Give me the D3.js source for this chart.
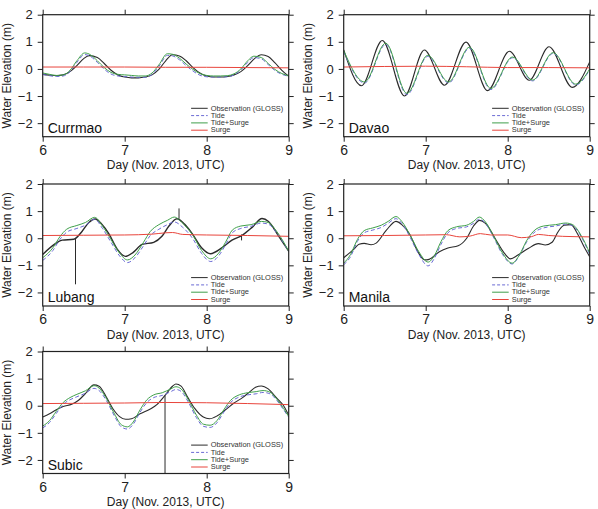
<!DOCTYPE html>
<html>
<head>
<meta charset="utf-8">
<script src="https://cdn.jsdelivr.net/npm/d3@7"></script>
<style>
  body { margin: 0; background: #fff; }
  text { font-family: "Liberation Sans", Arial, Helvetica, sans-serif; }
</style>
</head>
<body>
<svg id="chart" width="598" height="509"></svg>
<script>
// x axis: day of Nov. 2013 (UTC); series points are [hours after 6 Nov 00:00, metres]
const dayTicks = [6, 7, 8, 9];
const levelTicks = [-2, -1, 0, 1, 2];
const seriesNames = ["Observation (GLOSS)", "Tide", "Tide+Surge", "Surge"];

// Currmao
const currmaoObs = [[0,-0.20],[2,-0.23],[4,-0.25],[6,-0.22],[8,-0.10],[10,0.12],[12,0.38],[13.6,0.49],[16,0.42],[18,0.20],[20,-0.05],[22,-0.22],[24,-0.30],[26,-0.33],[28,-0.33],[30,-0.30],[32,-0.22],[34,-0.02],[36,0.30],[38,0.52],[40,0.48],[42,0.30],[44,0.05],[46,-0.15],[48,-0.26],[50,-0.30],[52,-0.30],[54,-0.28],[56,-0.22],[58,-0.10],[60,0.12],[62,0.38],[64,0.52],[66,0.46],[68,0.22],[70,-0.05],[72,-0.27]];
const currmaoTide = [[0,-0.20],[2,-0.25],[4,-0.28],[6,-0.26],[8,-0.10],[10,0.24],[12.3,0.53],[14,0.46],[16,0.24],[18,-0.01],[20,-0.19],[22,-0.26],[24,-0.28],[26,-0.30],[28,-0.31],[30,-0.31],[32,-0.21],[34,0.09],[36.5,0.50],[38,0.48],[40,0.34],[42,0.12],[44,-0.08],[46,-0.23],[48,-0.29],[50,-0.30],[52,-0.30],[54,-0.29],[56,-0.22],[58,-0.04],[60,0.24],[61.8,0.42],[64,0.37],[66,0.16],[68,-0.06],[70,-0.20],[72,-0.27]];
const currmaoTideSurge = [[0,-0.15],[2,-0.20],[4,-0.24],[6,-0.22],[8,-0.05],[10,0.30],[12.3,0.59],[14,0.52],[16,0.30],[18,0.05],[20,-0.13],[22,-0.20],[24,-0.22],[26,-0.24],[28,-0.26],[30,-0.26],[32,-0.15],[34,0.15],[36.5,0.56],[38,0.54],[40,0.40],[42,0.18],[44,-0.02],[46,-0.17],[48,-0.24],[50,-0.26],[52,-0.26],[54,-0.25],[56,-0.18],[58,0.00],[60,0.30],[61.8,0.47],[64,0.42],[66,0.20],[68,-0.02],[70,-0.17],[72,-0.25]];
const currmaoSurge = [[0,0.07],[12,0.07],[24,0.07],[36,0.06],[48,0.06],[60,0.05],[72,0.04]];

// Davao
const davaoObs = [[0,0.70],[5.2,-0.62],[11.3,1.05],[17.8,-1.00],[23.6,0.70],[29.5,-0.60],[35.8,0.99],[42.1,-0.80],[48.5,0.65],[54.3,-0.42],[60.1,0.82],[66.9,-0.68],[72,0.26]];
const davaoTide = [[0,0.64],[6.1,-0.52],[12.3,0.90],[18.5,-0.95],[24.6,0.46],[30.7,-0.52],[36.8,0.76],[43.1,-0.76],[49.4,0.41],[55.3,-0.44],[61.3,0.57],[67.9,-0.59],[72,-0.03]];
const davaoTideSurge = [[0,0.68],[6.1,-0.48],[12.3,0.95],[18.5,-0.90],[24.6,0.50],[30.7,-0.48],[36.8,0.80],[43.1,-0.72],[49.4,0.44],[55.3,-0.41],[61.3,0.60],[67.9,-0.56],[72,0.00]];
const davaoSurge = [[0,0.07],[12,0.09],[24,0.10],[36,0.08],[48,0.05],[60,0.05],[72,0.04]];

// Lubang
const lubangObs = [[0,-0.60],[3.7,-0.20],[5.7,-0.07],[9.1,-0.04],[11.5,0.25],[13.5,0.58],[15.4,0.71],[17.3,0.52],[19.3,0.18],[21.8,-0.40],[24.2,-0.67],[26.5,-0.52],[29.1,-0.23],[32.5,-0.15],[34.9,0.07],[36.9,0.44],[39.3,0.72],[41.5,0.52],[43.7,0.18],[46.5,-0.35],[49.1,-0.57],[52.5,-0.35],[55.4,-0.07],[58.3,0.10],[61.3,0.40],[64.2,0.73],[66.1,0.62],[69.1,0.07],[72,-0.48]];
const lubangTide = [[0,-0.82],[3,-0.45],[5,-0.05],[7,0.22],[10,0.36],[12.5,0.48],[15.2,0.70],[17.5,0.36],[20,-0.15],[22.5,-0.65],[24.8,-0.90],[27,-0.72],[29.5,-0.28],[31.5,0.10],[34,0.33],[36.5,0.50],[38.5,0.60],[41,0.40],[44,-0.03],[46.5,-0.56],[49.2,-0.86],[51.5,-0.65],[53.5,-0.25],[55.5,0.20],[58,0.36],[61,0.44],[64,0.56],[66,0.52],[68.5,0.20],[72,-0.50]];
const lubangTideSurge = [[0,-0.72],[3,-0.35],[5,0.05],[7,0.33],[10,0.47],[12.5,0.58],[15.2,0.77],[17.5,0.45],[20,-0.05],[22.5,-0.55],[24.8,-0.80],[27,-0.62],[29.5,-0.15],[31.5,0.25],[34,0.50],[36.5,0.66],[38.5,0.78],[41,0.55],[44,0.10],[46.5,-0.45],[49.2,-0.76],[51.5,-0.55],[53.5,-0.15],[55.5,0.30],[58,0.45],[61,0.50],[64,0.62],[66,0.58],[68.5,0.25],[72,-0.48]];
const lubangSurge = [[0,0.10],[12,0.11],[24,0.12],[32,0.15],[36,0.20],[38,0.21],[41,0.14],[48,0.12],[60,0.10],[72,0.07]];
const lubangSpikes = [[9.6,-0.03,-1.70],[39.9,0.72,1.10],[58.2,0.14,-0.08]];

// Manila
const manilaObs = [[0,-0.72],[3,-0.40],[4.5,-0.22],[6,-0.19],[8,-0.24],[9.5,-0.18],[12.5,0.30],[15.3,0.62],[17,0.50],[19.3,0.15],[21.5,-0.45],[23.7,-0.80],[25,-0.78],[28,-0.50],[30.5,-0.36],[33.5,-0.28],[36,0.00],[38,0.45],[39.8,0.66],[41.5,0.55],[44.5,-0.05],[47,-0.55],[48.8,-0.76],[51,-0.62],[54,-0.38],[57,-0.20],[59,-0.25],[61,-0.15],[62.8,0.25],[64.5,0.48],[66.5,0.50],[68.5,0.15],[70.5,-0.35],[72,-0.68]];
const manilaTide = [[0,-0.98],[2,-0.68],[4,-0.12],[6,0.20],[8.5,0.30],[11,0.40],[13,0.55],[15.3,0.72],[17,0.55],[19.5,0.02],[22,-0.60],[24.7,-1.02],[26.5,-0.75],[28.5,-0.22],[30.5,0.20],[33,0.36],[36,0.42],[38,0.55],[39.7,0.70],[41.5,0.55],[44,0.00],[46.5,-0.60],[49.3,-0.95],[51.5,-0.62],[53.5,-0.15],[55.5,0.18],[58.5,0.38],[62,0.45],[65,0.52],[67,0.46],[69.5,0.06],[72,-0.60]];
const manilaTideSurge = [[0,-0.92],[2,-0.60],[4,-0.05],[6,0.28],[8.5,0.38],[11,0.48],[13,0.62],[15.3,0.80],[17,0.62],[19.5,0.10],[22,-0.50],[24.7,-0.88],[26.5,-0.65],[28.5,-0.12],[30.5,0.28],[33,0.42],[36,0.48],[38,0.62],[39.7,0.78],[41.5,0.60],[44,0.05],[46.5,-0.55],[49.3,-0.92],[51.5,-0.60],[53.5,-0.10],[55.5,0.25],[58.5,0.45],[62,0.50],[65,0.56],[67,0.50],[69.5,0.10],[72,-0.55]];
const manilaSurge = [[0,0.09],[12,0.10],[24,0.12],[30,0.13],[34,0.05],[37,0.08],[40,0.17],[43,0.12],[48,0.12],[52,0.02],[55,0.06],[57,0.14],[60,0.10],[64,0.07],[72,0.05]];

// Subic
const subicObs = [[0,-0.42],[2,-0.30],[4,-0.15],[6,-0.03],[8.5,0.05],[10.5,0.20],[12.5,0.45],[15,0.77],[16.5,0.72],[18.5,0.35],[20.5,-0.10],[22.5,-0.40],[24.3,-0.50],[26,-0.48],[28.5,-0.30],[31.5,-0.12],[33.5,0.05],[35.8,0.38],[38,0.72],[39,0.80],[40.5,0.72],[42.5,0.30],[44.5,-0.10],[47,-0.42],[48.8,-0.48],[51,-0.38],[53.5,-0.15],[56,0.10],[58.5,0.30],[60.5,0.50],[62.3,0.68],[64,0.73],[66,0.62],[68.5,0.28],[70.5,0.00],[72,-0.35]];
const subicTide = [[0,-0.82],[2,-0.62],[4,-0.28],[6,0.05],[8,0.22],[10,0.33],[12.5,0.46],[15,0.64],[16.5,0.56],[18.5,0.22],[21,-0.38],[23,-0.78],[24.8,-0.86],[26.5,-0.68],[28.5,-0.24],[30.5,0.12],[32.5,0.30],[35,0.38],[37.5,0.52],[39,0.60],[40.5,0.53],[42.5,0.16],[45,-0.44],[47,-0.76],[49,-0.80],[51,-0.63],[53,-0.24],[55,0.12],[57.5,0.32],[60,0.40],[62.5,0.44],[64.5,0.49],[66.5,0.44],[68.5,0.20],[70.5,-0.15],[72,-0.42]];
const subicTideSurge = [[0,-0.75],[2,-0.55],[4,-0.20],[6,0.12],[8,0.30],[10,0.42],[12.5,0.55],[15,0.74],[16.5,0.65],[18.5,0.30],[21,-0.30],[23,-0.70],[24.8,-0.78],[26.5,-0.60],[28.5,-0.15],[30.5,0.22],[32.5,0.40],[35,0.48],[37.5,0.62],[39,0.70],[40.5,0.62],[42.5,0.25],[45,-0.35],[47,-0.68],[49,-0.72],[51,-0.55],[53,-0.15],[55,0.20],[57.5,0.40],[60,0.48],[62.5,0.52],[64.5,0.56],[66.5,0.50],[68.5,0.25],[70.5,-0.10],[72,-0.40]];
const subicSurge = [[0,0.08],[12,0.09],[24,0.10],[36,0.12],[48,0.11],[60,0.08],[72,0.04]];
const subicSpikes = [[35.8,0.38,-2.6]];

const stations = [
  { name: "Currmao", col: 0, row: 0, obs: currmaoObs, tide: currmaoTide, ts: currmaoTideSurge, surge: currmaoSurge, spikes: [] },
  { name: "Davao",   col: 1, row: 0, obs: davaoObs,   tide: davaoTide,   ts: davaoTideSurge,   surge: davaoSurge,   spikes: [] },
  { name: "Lubang",  col: 0, row: 1, obs: lubangObs,  tide: lubangTide,  ts: lubangTideSurge,  surge: lubangSurge,  spikes: lubangSpikes },
  { name: "Manila",  col: 1, row: 1, obs: manilaObs,  tide: manilaTide,  ts: manilaTideSurge,  surge: manilaSurge,  spikes: [] },
  { name: "Subic",   col: 0, row: 2, obs: subicObs,   tide: subicTide,   ts: subicTideSurge,   surge: subicSurge,   spikes: subicSpikes }
];

const colX = [42.7, 343.7], rowY = [14.7, 184, 351.5];
const w = 246, h = 122;
const ink = "#222";
const colors = { obs: "#2b2b2b", tide: "#6a6ad4", ts: "#3f9f4a", surge: "#e8453c" };

const svg = d3.select("#chart");

var x = d3.scaleLinear().domain([6, 9]).range([0, w]),
    y = d3.scaleLinear().domain([-2.5, 2]).range([h, 0]);

const line = d3.line()
    .x(function (d) { return x(6 + d[0] / 24); })
    .y(function (d) { return y(d[1]); })
    .curve(d3.curveMonotoneX);

stations.forEach(function (st, i) {
    const g = svg.append("g").attr("transform", "translate(" + colX[st.col] + "," + rowY[st.row] + ")");

    g.append("clipPath").attr("id", "clip" + i)
        .append("rect").attr("width", w).attr("height", h);

    const plot = g.append("g").attr("clip-path", "url(#clip" + i + ")");

    plot.append("path").datum(st.obs).attr("d", line)
        .attr("fill", "none").attr("stroke", colors.obs).attr("stroke-width", st.name == "Lubang" ? 1.4 : 1.1);
    plot.selectAll("line.spike").data(st.spikes).enter().append("line")
        .attr("x1", function (d) { return x(6 + d[0] / 24); })
        .attr("x2", function (d) { return x(6 + d[0] / 24); })
        .attr("y1", function (d) { return y(d[1]); })
        .attr("y2", function (d) { return y(d[2]); })
        .attr("stroke", colors.obs).attr("stroke-width", 1);
    plot.append("path").datum(st.tide).attr("d", line)
        .attr("fill", "none").attr("stroke", colors.tide).attr("stroke-width", 1)
        .attr("stroke-dasharray", "4,2.5");
    plot.append("path").datum(st.ts).attr("d", line)
        .attr("fill", "none").attr("stroke", colors.ts).attr("stroke-width", 1);
    plot.append("path").datum(st.surge).attr("d", line)
        .attr("fill", "none").attr("stroke", colors.surge).attr("stroke-width", 1);

    // axes, ticks outward on all four sides
    const axL = g.append("g").call(d3.axisLeft(y).tickValues(levelTicks).tickSize(5).tickPadding(5).tickFormat(d3.format("d")));
    const axR = g.append("g").attr("transform", "translate(" + w + ",0)")
        .call(d3.axisRight(y).tickValues(levelTicks).tickSize(5).tickFormat(""));
    const axT = g.append("g").call(d3.axisTop(x).tickValues(dayTicks).tickSize(5).tickFormat(""));
    const axB = g.append("g").attr("transform", "translate(0," + h + ")")
        .call(d3.axisBottom(x).tickValues(dayTicks).tickSize(5).tickPadding(3.5).tickFormat(d3.format("d")));
    [axL, axR, axT, axB].forEach(function (a) {
        a.select(".domain").remove();
        a.attr("color", ink).attr("font-family", null);
        a.selectAll("line").attr("stroke-width", 1);
    });
    axL.attr("font-size", 13);
    axB.attr("font-size", 14);

    g.append("rect").attr("width", w).attr("height", h)
        .attr("fill", "none").attr("stroke", ink).attr("stroke-width", 1.2);

    g.append("text").attr("x", w / 2).attr("y", h + 32.5)
        .attr("text-anchor", "middle").attr("font-size", 12).attr("fill", ink)
        .text("Day (Nov. 2013, UTC)");
    g.append("text")
        .attr("transform", "translate(-36," + (h / 2) + ") rotate(-90)")
        .attr("text-anchor", "middle").attr("dominant-baseline", "central")
        .attr("font-size", 12).attr("fill", ink)
        .text("Water Elevation (m)");

    g.append("text").attr("x", 5).attr("y", h - 4)
        .attr("font-size", 14).attr("fill", "#111").text(st.name);

    // legend: small tightly stacked rows, text widened a little to keep the reference width
    const keys = ["obs", "tide", "ts", "surge"];
    const lg = g.append("g");
    seriesNames.forEach(function (nm, k) {
        const ly = h - 28.4 + k * 7.3;
        lg.append("line").attr("x1", w - 97.6).attr("x2", w - 81).attr("y1", ly).attr("y2", ly)
            .attr("stroke", colors[keys[k]]).attr("stroke-width", 1)
            .attr("stroke-dasharray", keys[k] == "tide" ? "3,2" : null);
        lg.append("text")
            .attr("transform", "translate(" + (w - 78) + "," + ly + ") scale(1.18,1)")
            .attr("dy", "0.35em")
            .attr("font-size", 6.3).attr("fill", "#333").text(nm);
    });
});
</script>
</body>
</html>
